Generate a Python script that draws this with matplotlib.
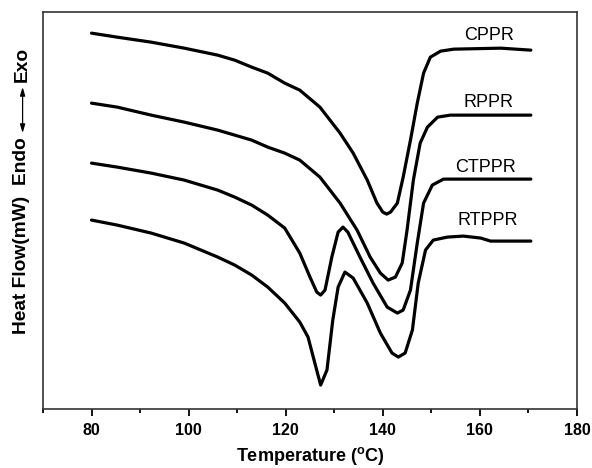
import matplotlib
matplotlib.use("Agg")
import matplotlib.pyplot as plt
from matplotlib.ticker import MultipleLocator

# ================= DATA =================
# temperature (C) and heat flow (arbitrary mW units, curves shifted)
t_cppr = [80.0, 85.3, 92.3, 99.1, 106.0, 109.5, 113.0, 116.3, 119.8, 122.9,
          127.05, 131.2, 133.9, 136.8, 138.8, 140.0, 140.8, 141.6, 143.0, 144.2,
          145.7, 147.1, 148.4, 149.8, 151.9, 154.6, 164.3, 170.5]
hf_cppr = [3.76, 3.72, 3.67, 3.61, 3.54, 3.49, 3.42, 3.36, 3.26, 3.19,
           3.02, 2.76, 2.56, 2.29, 2.06, 1.97, 1.95, 1.97, 2.06, 2.32,
           2.69, 3.06, 3.36, 3.52, 3.58, 3.60, 3.61, 3.59]

t_rppr = [80.0, 85.3, 92.3, 99.1, 106.0, 113.0, 116.3, 119.8, 122.9,
          127.05, 131.2, 134.7, 137.4, 139.5, 141.1, 142.6, 144.0, 145.0, 146.3,
          147.7, 149.2, 151.3, 153.9, 170.5]
hf_rppr = [3.06, 3.02, 2.94, 2.87, 2.79, 2.69, 2.62, 2.56, 2.49,
           2.32, 2.06, 1.79, 1.52, 1.36, 1.29, 1.32, 1.46, 1.79, 2.29,
           2.66, 2.82, 2.92, 2.94, 2.94]

t_ctppr = [80.0, 85.3, 92.3, 99.1, 106.0, 109.5, 113.0, 116.3, 119.8, 122.9,
           125.0, 126.4, 127.2, 128.1, 129.5, 130.8, 131.8, 132.8, 135.3, 138.0,
           140.9, 143.0, 144.2, 145.7, 147.1, 148.4, 150.2, 152.5, 170.5]
hf_ctppr = [2.46, 2.42, 2.36, 2.29, 2.19, 2.12, 2.04, 1.94, 1.81, 1.56,
            1.32, 1.17, 1.14, 1.19, 1.52, 1.77, 1.82, 1.77, 1.52, 1.26,
            1.02, 0.96, 0.99, 1.19, 1.66, 2.06, 2.24, 2.30, 2.30]

t_rtppr = [80.0, 85.3, 92.3, 99.1, 106.0, 109.5, 113.0, 116.3, 119.8, 122.9,
           124.6, 126.0, 127.2, 128.5, 129.7, 130.8, 132.2, 133.9, 136.8, 139.5,
           141.9, 143.2, 144.6, 146.1, 147.3, 148.8, 150.4, 153.3, 156.6, 160.2,
           162.2, 170.5]
hf_rtppr = [1.89, 1.84, 1.76, 1.66, 1.52, 1.44, 1.34, 1.22, 1.06, 0.87,
            0.72, 0.46, 0.24, 0.39, 0.89, 1.22, 1.37, 1.31, 1.06, 0.76,
            0.56, 0.52, 0.56, 0.79, 1.26, 1.59, 1.69, 1.72, 1.73, 1.71,
            1.68, 1.68]

names = ["CPPR", "RPPR", "CTPPR", "RTPPR"]
label_t = [161.8, 161.8, 161.2, 161.6]
label_hf = [3.74, 3.07, 2.42, 1.89]

# ================= PLOT =================
plt.rcParams['font.family'] = ['Liberation Sans', 'DejaVu Sans']

fig = plt.figure(figsize=(5.92, 4.68), dpi=100)
ax = fig.add_axes([0.0726, 0.126, 0.902, 0.848])

for t, hf in [(t_cppr, hf_cppr), (t_rppr, hf_rppr), (t_ctppr, hf_ctppr), (t_rtppr, hf_rtppr)]:
    ax.plot(t, hf, color='black', lw=2.3, solid_joinstyle='round', solid_capstyle='round')

for n, x, y in zip(names, label_t, label_hf):
    ax.text(x, y, n, ha='center', va='center', fontsize=13)

ax.set_xlim(70, 180)
ax.set_ylim(0, 3.97)
ax.xaxis.set_major_locator(MultipleLocator(20))
ax.xaxis.set_minor_locator(MultipleLocator(10))
ax.set_yticks([])
ax.tick_params(axis='x', which='major', direction='out', length=5, width=1.3, labelsize=11.5, pad=5)
ax.tick_params(axis='x', which='minor', direction='out', length=3, width=1.3)
for lbl in ax.get_xticklabels():
    lbl.set_fontweight('bold')
for s in ax.spines.values():
    s.set_linewidth(1.2)
    s.set_color('#333333')

ax.set_xlabel(r'Temperature ($^{\mathregular{o}}$C)', fontsize=13, fontweight='bold', labelpad=5)

# y label made of pieces: "Heat Flow(mW)  Endo <-> Exo"
ylx = 22 / 592
fig.text(ylx, 1 - 137 / 468, 'Heat Flow(mW)  Endo', rotation=90, ha='center', va='top',
         fontsize=13.8, fontweight='bold')
fig.text(ylx, 1 - 47 / 468, 'Exo', rotation=90, ha='center', va='top',
         fontsize=13.8, fontweight='bold')
fig.add_artist(plt.Annotation('', xy=(ylx + 0.001, 1 - 87 / 468), xytext=(ylx + 0.001, 1 - 133 / 468),
                              xycoords='figure fraction', textcoords='figure fraction',
                              arrowprops=dict(arrowstyle='<|-|>,head_length=0.5,head_width=0.15',
                                              lw=0.9, color='black', shrinkA=0, shrinkB=0)))

plt.savefig('out.png', dpi=100)
plt.close()
